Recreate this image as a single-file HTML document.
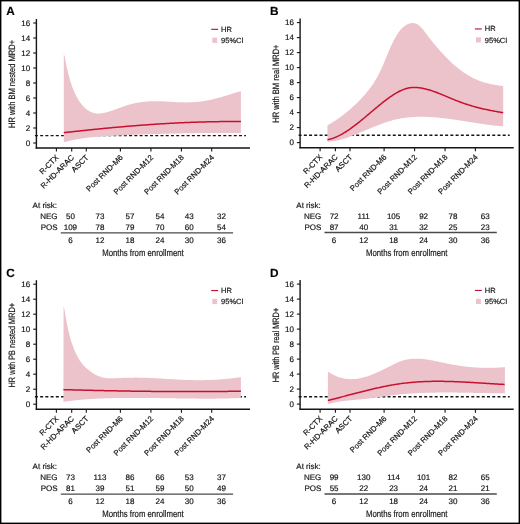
<!DOCTYPE html>
<html><head><meta charset="utf-8"><title>HR plots</title>
<style>html,body{margin:0;padding:0;background:#fff;} svg{display:block;} text{text-rendering:geometricPrecision;filter:grayscale(1);stroke:#111;stroke-width:0.18px;} text{font-family:"Liberation Sans", sans-serif;}</style>
</head><body>
<svg width="520" height="524" viewBox="0 0 520 524" font-family='"Liberation Sans", sans-serif' fill="#151515">
<rect x="0.7" y="0.7" width="518.6" height="522.6" fill="#fff" stroke="#000" stroke-width="1.4"/>
<g id="pA" class="t"><line x1="34.90" y1="135.60" x2="246.00" y2="135.60" stroke="#151515" stroke-width="1.4" stroke-dasharray="3 2.233"/>
<path d="M63.80,54.00 L64.80,57.07 L65.80,62.58 L66.80,67.52 L67.80,71.85 L68.80,75.73 L69.80,79.28 L70.80,82.54 L71.80,85.54 L72.80,88.28 L73.80,90.79 L74.80,93.08 L75.80,95.17 L76.80,97.09 L77.80,98.84 L78.80,100.45 L79.80,101.92 L80.80,103.29 L81.80,104.56 L82.80,105.73 L83.80,106.80 L84.80,107.78 L85.80,108.66 L86.80,109.46 L87.80,110.18 L88.80,110.82 L89.80,111.38 L90.80,111.86 L91.80,112.28 L92.80,112.63 L93.80,112.91 L94.80,113.14 L95.80,113.30 L96.80,113.41 L97.80,113.47 L98.80,113.49 L99.80,113.45 L100.80,113.38 L101.80,113.27 L102.80,113.12 L103.80,112.94 L104.80,112.73 L105.80,112.50 L106.80,112.25 L107.80,111.97 L108.80,111.68 L109.80,111.37 L110.80,111.04 L111.80,110.70 L112.80,110.35 L113.80,109.99 L114.80,109.63 L115.80,109.26 L116.80,108.88 L117.80,108.51 L118.80,108.13 L119.80,107.75 L120.80,107.38 L121.80,107.02 L122.80,106.66 L123.80,106.31 L124.80,105.98 L125.80,105.65 L126.80,105.34 L127.80,105.04 L128.80,104.75 L129.80,104.47 L130.80,104.20 L131.80,103.95 L132.80,103.70 L133.80,103.47 L134.80,103.25 L135.80,103.04 L136.80,102.84 L137.80,102.66 L138.80,102.48 L139.80,102.32 L140.80,102.17 L141.80,102.03 L142.80,101.90 L143.80,101.78 L144.80,101.67 L145.80,101.58 L146.80,101.49 L147.80,101.42 L148.80,101.36 L149.80,101.30 L150.80,101.26 L151.80,101.23 L152.80,101.20 L153.80,101.19 L154.80,101.18 L155.80,101.18 L156.80,101.19 L157.80,101.21 L158.80,101.23 L159.80,101.26 L160.80,101.29 L161.80,101.33 L162.80,101.37 L163.80,101.41 L164.80,101.46 L165.80,101.51 L166.80,101.57 L167.80,101.62 L168.80,101.68 L169.80,101.74 L170.80,101.80 L171.80,101.85 L172.80,101.91 L173.80,101.97 L174.80,102.02 L175.80,102.08 L176.80,102.13 L177.80,102.17 L178.80,102.22 L179.80,102.26 L180.80,102.29 L181.80,102.32 L182.80,102.35 L183.80,102.36 L184.80,102.38 L185.80,102.38 L186.80,102.38 L187.80,102.37 L188.80,102.35 L189.80,102.32 L190.80,102.28 L191.80,102.24 L192.80,102.18 L193.80,102.12 L194.80,102.05 L195.80,101.97 L196.80,101.88 L197.80,101.78 L198.80,101.68 L199.80,101.56 L200.80,101.44 L201.80,101.31 L202.80,101.17 L203.80,101.02 L204.80,100.86 L205.80,100.70 L206.80,100.53 L207.80,100.34 L208.80,100.15 L209.80,99.96 L210.80,99.75 L211.80,99.53 L212.80,99.31 L213.80,99.08 L214.80,98.84 L215.80,98.59 L216.80,98.34 L217.80,98.08 L218.80,97.80 L219.80,97.53 L220.80,97.24 L221.80,96.95 L222.80,96.65 L223.80,96.35 L224.80,96.04 L225.80,95.73 L226.80,95.42 L227.80,95.11 L228.80,94.79 L229.80,94.47 L230.80,94.16 L231.80,93.84 L232.80,93.53 L233.80,93.21 L234.80,92.90 L235.80,92.60 L236.80,92.29 L237.80,91.99 L238.80,91.70 L239.80,91.41 L240.80,91.13 L240.90,91.10 L240.90,132.90 L240.80,132.90 L239.80,132.90 L238.80,132.90 L237.80,132.89 L236.80,132.89 L235.80,132.89 L234.80,132.89 L233.80,132.89 L232.80,132.89 L231.80,132.88 L230.80,132.88 L229.80,132.88 L228.80,132.89 L227.80,132.89 L226.80,132.89 L225.80,132.89 L224.80,132.89 L223.80,132.89 L222.80,132.90 L221.80,132.90 L220.80,132.90 L219.80,132.91 L218.80,132.91 L217.80,132.92 L216.80,132.92 L215.80,132.93 L214.80,132.93 L213.80,132.94 L212.80,132.95 L211.80,132.95 L210.80,132.96 L209.80,132.97 L208.80,132.98 L207.80,132.99 L206.80,132.99 L205.80,133.00 L204.80,133.01 L203.80,133.02 L202.80,133.04 L201.80,133.05 L200.80,133.06 L199.80,133.07 L198.80,133.08 L197.80,133.09 L196.80,133.11 L195.80,133.12 L194.80,133.14 L193.80,133.15 L192.80,133.16 L191.80,133.18 L190.80,133.20 L189.80,133.21 L188.80,133.23 L187.80,133.24 L186.80,133.26 L185.80,133.28 L184.80,133.30 L183.80,133.32 L182.80,133.34 L181.80,133.36 L180.80,133.38 L179.80,133.40 L178.80,133.42 L177.80,133.44 L176.80,133.46 L175.80,133.48 L174.80,133.50 L173.80,133.53 L172.80,133.55 L171.80,133.57 L170.80,133.60 L169.80,133.62 L168.80,133.65 L167.80,133.67 L166.80,133.70 L165.80,133.73 L164.80,133.75 L163.80,133.78 L162.80,133.81 L161.80,133.84 L160.80,133.87 L159.80,133.90 L158.80,133.93 L157.80,133.96 L156.80,133.99 L155.80,134.02 L154.80,134.05 L153.80,134.08 L152.80,134.11 L151.80,134.15 L150.80,134.18 L149.80,134.21 L148.80,134.25 L147.80,134.28 L146.80,134.32 L145.80,134.35 L144.80,134.39 L143.80,134.43 L142.80,134.46 L141.80,134.50 L140.80,134.54 L139.80,134.58 L138.80,134.62 L137.80,134.66 L136.80,134.70 L135.80,134.74 L134.80,134.78 L133.80,134.82 L132.80,134.86 L131.80,134.91 L130.80,134.95 L129.80,134.99 L128.80,135.04 L127.80,135.08 L126.80,135.13 L125.80,135.17 L124.80,135.22 L123.80,135.27 L122.80,135.31 L121.80,135.36 L120.80,135.41 L119.80,135.46 L118.80,135.51 L117.80,135.56 L116.80,135.61 L115.80,135.66 L114.80,135.71 L113.80,135.76 L112.80,135.81 L111.80,135.87 L110.80,135.92 L109.80,135.98 L108.80,136.03 L107.80,136.09 L106.80,136.15 L105.80,136.21 L104.80,136.27 L103.80,136.34 L102.80,136.40 L101.80,136.47 L100.80,136.54 L99.80,136.61 L98.80,136.69 L97.80,136.77 L96.80,136.85 L95.80,136.93 L94.80,137.02 L93.80,137.11 L92.80,137.20 L91.80,137.30 L90.80,137.40 L89.80,137.50 L88.80,137.61 L87.80,137.72 L86.80,137.84 L85.80,137.96 L84.80,138.09 L83.80,138.22 L82.80,138.36 L81.80,138.50 L80.80,138.65 L79.80,138.80 L78.80,138.97 L77.80,139.13 L76.80,139.31 L75.80,139.49 L74.80,139.68 L73.80,139.87 L72.80,140.08 L71.80,140.29 L70.80,140.51 L69.80,140.73 L68.80,140.97 L67.80,141.21 L66.80,141.46 L65.80,141.73 L64.80,142.00 L63.80,142.28 Z" fill="#edc3cb"/>
<path d="M63.80,132.68 L64.80,132.57 L65.80,132.45 L66.80,132.34 L67.80,132.23 L68.80,132.12 L69.80,132.01 L70.80,131.90 L71.80,131.79 L72.80,131.68 L73.80,131.57 L74.80,131.46 L75.80,131.35 L76.80,131.24 L77.80,131.13 L78.80,131.02 L79.80,130.91 L80.80,130.81 L81.80,130.70 L82.80,130.59 L83.80,130.49 L84.80,130.38 L85.80,130.28 L86.80,130.17 L87.80,130.07 L88.80,129.96 L89.80,129.86 L90.80,129.76 L91.80,129.66 L92.80,129.55 L93.80,129.45 L94.80,129.35 L95.80,129.25 L96.80,129.15 L97.80,129.05 L98.80,128.95 L99.80,128.85 L100.80,128.75 L101.80,128.66 L102.80,128.56 L103.80,128.46 L104.80,128.36 L105.80,128.27 L106.80,128.17 L107.80,128.08 L108.80,127.98 L109.80,127.89 L110.80,127.80 L111.80,127.70 L112.80,127.61 L113.80,127.52 L114.80,127.43 L115.80,127.34 L116.80,127.25 L117.80,127.16 L118.80,127.07 L119.80,126.98 L120.80,126.89 L121.80,126.80 L122.80,126.71 L123.80,126.63 L124.80,126.54 L125.80,126.46 L126.80,126.37 L127.80,126.29 L128.80,126.21 L129.80,126.12 L130.80,126.04 L131.80,125.96 L132.80,125.88 L133.80,125.80 L134.80,125.72 L135.80,125.64 L136.80,125.56 L137.80,125.48 L138.80,125.40 L139.80,125.33 L140.80,125.25 L141.80,125.17 L142.80,125.10 L143.80,125.03 L144.80,124.95 L145.80,124.88 L146.80,124.81 L147.80,124.74 L148.80,124.67 L149.80,124.59 L150.80,124.53 L151.80,124.46 L152.80,124.39 L153.80,124.32 L154.80,124.25 L155.80,124.19 L156.80,124.12 L157.80,124.06 L158.80,123.99 L159.80,123.93 L160.80,123.87 L161.80,123.81 L162.80,123.75 L163.80,123.69 L164.80,123.63 L165.80,123.57 L166.80,123.51 L167.80,123.45 L168.80,123.40 L169.80,123.34 L170.80,123.29 L171.80,123.23 L172.80,123.18 L173.80,123.13 L174.80,123.07 L175.80,123.02 L176.80,122.97 L177.80,122.92 L178.80,122.87 L179.80,122.83 L180.80,122.78 L181.80,122.73 L182.80,122.69 L183.80,122.64 L184.80,122.60 L185.80,122.56 L186.80,122.51 L187.80,122.47 L188.80,122.43 L189.80,122.39 L190.80,122.35 L191.80,122.32 L192.80,122.28 L193.80,122.24 L194.80,122.21 L195.80,122.17 L196.80,122.14 L197.80,122.11 L198.80,122.08 L199.80,122.05 L200.80,122.02 L201.80,121.99 L202.80,121.96 L203.80,121.93 L204.80,121.90 L205.80,121.88 L206.80,121.85 L207.80,121.83 L208.80,121.81 L209.80,121.79 L210.80,121.77 L211.80,121.75 L212.80,121.73 L213.80,121.71 L214.80,121.69 L215.80,121.68 L216.80,121.66 L217.80,121.65 L218.80,121.63 L219.80,121.62 L220.80,121.61 L221.80,121.60 L222.80,121.59 L223.80,121.58 L224.80,121.58 L225.80,121.57 L226.80,121.56 L227.80,121.56 L228.80,121.56 L229.80,121.55 L230.80,121.55 L231.80,121.55 L232.80,121.55 L233.80,121.56 L234.80,121.56 L235.80,121.56 L236.80,121.57 L237.80,121.57 L238.80,121.58 L239.80,121.59 L240.80,121.60 L240.90,121.60" fill="none" stroke="#c8102e" stroke-width="1.5" stroke-linejoin="round"/>
<line x1="36.40" y1="19.00" x2="36.40" y2="148.70" stroke="#151515" stroke-width="1.4"/>
<line x1="35.70" y1="148.05" x2="250.00" y2="148.05" stroke="#151515" stroke-width="1.45"/>
<line x1="33.20" y1="143.00" x2="36.50" y2="143.00" stroke="#151515" stroke-width="1.1"/>
<text x="30.20" y="145.50" font-size="8" text-anchor="end">0</text>
<line x1="33.20" y1="128.00" x2="36.50" y2="128.00" stroke="#151515" stroke-width="1.1"/>
<text x="30.20" y="130.50" font-size="8" text-anchor="end">2</text>
<line x1="33.20" y1="113.00" x2="36.50" y2="113.00" stroke="#151515" stroke-width="1.1"/>
<text x="30.20" y="115.50" font-size="8" text-anchor="end">4</text>
<line x1="33.20" y1="98.00" x2="36.50" y2="98.00" stroke="#151515" stroke-width="1.1"/>
<text x="30.20" y="100.50" font-size="8" text-anchor="end">6</text>
<line x1="33.20" y1="83.00" x2="36.50" y2="83.00" stroke="#151515" stroke-width="1.1"/>
<text x="30.20" y="85.50" font-size="8" text-anchor="end">8</text>
<line x1="33.20" y1="68.00" x2="36.50" y2="68.00" stroke="#151515" stroke-width="1.1"/>
<text x="30.20" y="70.50" font-size="8" text-anchor="end">10</text>
<line x1="33.20" y1="53.00" x2="36.50" y2="53.00" stroke="#151515" stroke-width="1.1"/>
<text x="30.20" y="55.50" font-size="8" text-anchor="end">12</text>
<line x1="33.20" y1="38.00" x2="36.50" y2="38.00" stroke="#151515" stroke-width="1.1"/>
<text x="30.20" y="40.50" font-size="8" text-anchor="end">14</text>
<line x1="33.20" y1="23.00" x2="36.50" y2="23.00" stroke="#151515" stroke-width="1.1"/>
<text x="30.20" y="25.50" font-size="8" text-anchor="end">16</text>
<line x1="56.40" y1="148.00" x2="56.40" y2="151.60" stroke="#151515" stroke-width="1.1"/>
<text x="59.30" y="158.00" font-size="7.8" text-anchor="end" transform="rotate(-45 59.30 158.00)">R-CTX</text>
<line x1="71.70" y1="148.00" x2="71.70" y2="151.60" stroke="#151515" stroke-width="1.1"/>
<text x="74.60" y="158.00" font-size="7.8" text-anchor="end" transform="rotate(-45 74.60 158.00)">R-HD-ARAC</text>
<line x1="86.30" y1="148.00" x2="86.30" y2="151.60" stroke="#151515" stroke-width="1.1"/>
<text x="89.20" y="158.00" font-size="7.8" text-anchor="end" transform="rotate(-45 89.20 158.00)">ASCT</text>
<line x1="120.40" y1="148.00" x2="120.40" y2="151.60" stroke="#151515" stroke-width="1.1"/>
<text x="123.30" y="158.00" font-size="7.8" text-anchor="end" transform="rotate(-45 123.30 158.00)">Post RND-M6</text>
<line x1="150.90" y1="148.00" x2="150.90" y2="151.60" stroke="#151515" stroke-width="1.1"/>
<text x="153.80" y="158.00" font-size="7.8" text-anchor="end" transform="rotate(-45 153.80 158.00)">Post RND-M12</text>
<line x1="181.40" y1="148.00" x2="181.40" y2="151.60" stroke="#151515" stroke-width="1.1"/>
<text x="184.30" y="158.00" font-size="7.8" text-anchor="end" transform="rotate(-45 184.30 158.00)">Post RND-M18</text>
<line x1="211.70" y1="148.00" x2="211.70" y2="151.60" stroke="#151515" stroke-width="1.1"/>
<text x="214.60" y="158.00" font-size="7.8" text-anchor="end" transform="rotate(-45 214.60 158.00)">Post RND-M24</text>
<text x="6.20" y="14.70" font-size="11.8" font-weight="bold" fill="#000">A</text>
<text x="15.10" y="84.00" font-size="9.2" text-anchor="middle" transform="rotate(-90 15.10 84.00)" textLength="88.1" lengthAdjust="spacingAndGlyphs">HR with BM nested MRD+</text>
<line x1="211.20" y1="29.35" x2="218.10" y2="29.35" stroke="#c8102e" stroke-width="1.15"/>
<text x="221.10" y="31.80" font-size="7.5">HR</text>
<rect x="212.30" y="37.70" width="4.9" height="5.2" fill="#edc3cb"/>
<text x="221.10" y="42.90" font-size="7.5">95%CI</text>
<text x="32.60" y="208.30" font-size="8">At risk:</text>
<text x="57.60" y="219.30" font-size="8" text-anchor="end">NEG</text>
<text x="57.60" y="230.40" font-size="8" text-anchor="end">POS</text>
<text x="70.40" y="219.30" font-size="8" text-anchor="middle">50</text>
<text x="70.40" y="230.40" font-size="8" text-anchor="middle">109</text>
<text x="70.40" y="243.00" font-size="8" text-anchor="middle">6</text>
<text x="100.00" y="219.30" font-size="8" text-anchor="middle">73</text>
<text x="100.00" y="230.40" font-size="8" text-anchor="middle">78</text>
<text x="100.00" y="243.00" font-size="8" text-anchor="middle">12</text>
<text x="129.90" y="219.30" font-size="8" text-anchor="middle">57</text>
<text x="129.90" y="230.40" font-size="8" text-anchor="middle">79</text>
<text x="129.90" y="243.00" font-size="8" text-anchor="middle">18</text>
<text x="159.90" y="219.30" font-size="8" text-anchor="middle">54</text>
<text x="159.90" y="230.40" font-size="8" text-anchor="middle">70</text>
<text x="159.90" y="243.00" font-size="8" text-anchor="middle">24</text>
<text x="189.30" y="219.30" font-size="8" text-anchor="middle">43</text>
<text x="189.30" y="230.40" font-size="8" text-anchor="middle">60</text>
<text x="189.30" y="243.00" font-size="8" text-anchor="middle">30</text>
<text x="221.50" y="219.30" font-size="8" text-anchor="middle">32</text>
<text x="221.50" y="230.40" font-size="8" text-anchor="middle">54</text>
<text x="221.50" y="243.00" font-size="8" text-anchor="middle">36</text>
<line x1="60.80" y1="232.90" x2="233.10" y2="232.90" stroke="#4a4a4a" stroke-width="1.4"/>
<text x="143.00" y="255.80" font-size="9.5" text-anchor="middle" textLength="81.5" lengthAdjust="spacingAndGlyphs">Months from enrollment</text></g>
<g id="pB" class="t"><line x1="298.60" y1="135.20" x2="509.70" y2="135.20" stroke="#151515" stroke-width="1.4" stroke-dasharray="3 2.233"/>
<path d="M327.40,125.40 L328.40,124.82 L329.40,124.24 L330.40,123.64 L331.40,123.03 L332.40,122.41 L333.40,121.77 L334.40,121.13 L335.40,120.47 L336.40,119.80 L337.40,119.12 L338.40,118.42 L339.40,117.71 L340.40,116.99 L341.40,116.26 L342.40,115.51 L343.40,114.74 L344.40,113.97 L345.40,113.17 L346.40,112.37 L347.40,111.55 L348.40,110.71 L349.40,109.86 L350.40,108.99 L351.40,108.11 L352.40,107.21 L353.40,106.30 L354.40,105.37 L355.40,104.42 L356.40,103.45 L357.40,102.47 L358.40,101.47 L359.40,100.45 L360.40,99.42 L361.40,98.36 L362.40,97.29 L363.40,96.20 L364.40,95.08 L365.40,93.95 L366.40,92.78 L367.40,91.58 L368.40,90.34 L369.40,89.06 L370.40,87.73 L371.40,86.35 L372.40,84.91 L373.40,83.41 L374.40,81.85 L375.40,80.21 L376.40,78.50 L377.40,76.72 L378.40,74.85 L379.40,72.90 L380.40,70.86 L381.40,68.72 L382.40,66.49 L383.40,64.19 L384.40,61.82 L385.40,59.42 L386.40,57.00 L387.40,54.58 L388.40,52.19 L389.40,49.83 L390.40,47.54 L391.40,45.33 L392.40,43.21 L393.40,41.18 L394.40,39.26 L395.40,37.43 L396.40,35.72 L397.40,34.11 L398.40,32.62 L399.40,31.25 L400.40,30.00 L401.40,28.87 L402.40,27.85 L403.40,26.95 L404.40,26.16 L405.40,25.46 L406.40,24.86 L407.40,24.36 L408.40,23.94 L409.40,23.60 L410.40,23.34 L411.40,23.16 L412.40,23.08 L413.40,23.11 L414.40,23.24 L415.40,23.49 L416.40,23.86 L417.40,24.37 L418.40,25.02 L419.40,25.81 L420.40,26.72 L421.40,27.74 L422.40,28.86 L423.40,30.07 L424.40,31.35 L425.40,32.67 L426.40,34.02 L427.40,35.36 L428.40,36.68 L429.40,37.98 L430.40,39.26 L431.40,40.53 L432.40,41.77 L433.40,43.00 L434.40,44.21 L435.40,45.40 L436.40,46.58 L437.40,47.75 L438.40,48.89 L439.40,50.03 L440.40,51.15 L441.40,52.26 L442.40,53.35 L443.40,54.43 L444.40,55.49 L445.40,56.54 L446.40,57.57 L447.40,58.59 L448.40,59.58 L449.40,60.56 L450.40,61.52 L451.40,62.46 L452.40,63.38 L453.40,64.28 L454.40,65.16 L455.40,66.03 L456.40,66.87 L457.40,67.69 L458.40,68.49 L459.40,69.27 L460.40,70.04 L461.40,70.78 L462.40,71.50 L463.40,72.20 L464.40,72.89 L465.40,73.55 L466.40,74.20 L467.40,74.82 L468.40,75.42 L469.40,76.01 L470.40,76.57 L471.40,77.12 L472.40,77.64 L473.40,78.15 L474.40,78.63 L475.40,79.10 L476.40,79.55 L477.40,79.97 L478.40,80.38 L479.40,80.77 L480.40,81.15 L481.40,81.50 L482.40,81.84 L483.40,82.16 L484.40,82.47 L485.40,82.76 L486.40,83.04 L487.40,83.30 L488.40,83.55 L489.40,83.79 L490.40,84.01 L491.40,84.22 L492.40,84.42 L493.40,84.61 L494.40,84.79 L495.40,84.96 L496.40,85.12 L497.40,85.27 L498.40,85.41 L499.40,85.55 L500.40,85.68 L501.40,85.80 L502.40,85.91 L503.20,86.00 L503.20,126.40 L502.40,126.33 L501.40,126.25 L500.40,126.16 L499.40,126.07 L498.40,125.97 L497.40,125.87 L496.40,125.76 L495.40,125.65 L494.40,125.54 L493.40,125.42 L492.40,125.30 L491.40,125.18 L490.40,125.06 L489.40,124.93 L488.40,124.80 L487.40,124.66 L486.40,124.53 L485.40,124.39 L484.40,124.25 L483.40,124.11 L482.40,123.96 L481.40,123.81 L480.40,123.67 L479.40,123.52 L478.40,123.37 L477.40,123.21 L476.40,123.06 L475.40,122.90 L474.40,122.75 L473.40,122.59 L472.40,122.44 L471.40,122.28 L470.40,122.12 L469.40,121.96 L468.40,121.81 L467.40,121.65 L466.40,121.49 L465.40,121.33 L464.40,121.18 L463.40,121.02 L462.40,120.87 L461.40,120.71 L460.40,120.56 L459.40,120.41 L458.40,120.25 L457.40,120.11 L456.40,119.96 L455.40,119.81 L454.40,119.67 L453.40,119.52 L452.40,119.38 L451.40,119.24 L450.40,119.11 L449.40,118.97 L448.40,118.84 L447.40,118.72 L446.40,118.59 L445.40,118.47 L444.40,118.35 L443.40,118.23 L442.40,118.12 L441.40,118.01 L440.40,117.91 L439.40,117.81 L438.40,117.71 L437.40,117.61 L436.40,117.53 L435.40,117.44 L434.40,117.36 L433.40,117.29 L432.40,117.21 L431.40,117.15 L430.40,117.09 L429.40,117.03 L428.40,116.98 L427.40,116.94 L426.40,116.90 L425.40,116.87 L424.40,116.84 L423.40,116.82 L422.40,116.80 L421.40,116.80 L420.40,116.80 L419.40,116.80 L418.40,116.82 L417.40,116.84 L416.40,116.87 L415.40,116.91 L414.40,116.95 L413.40,117.01 L412.40,117.07 L411.40,117.14 L410.40,117.22 L409.40,117.30 L408.40,117.40 L407.40,117.51 L406.40,117.63 L405.40,117.75 L404.40,117.89 L403.40,118.03 L402.40,118.19 L401.40,118.36 L400.40,118.53 L399.40,118.72 L398.40,118.92 L397.40,119.13 L396.40,119.35 L395.40,119.58 L394.40,119.83 L393.40,120.09 L392.40,120.35 L391.40,120.63 L390.40,120.92 L389.40,121.21 L388.40,121.52 L387.40,121.84 L386.40,122.16 L385.40,122.49 L384.40,122.83 L383.40,123.18 L382.40,123.54 L381.40,123.90 L380.40,124.27 L379.40,124.64 L378.40,125.02 L377.40,125.41 L376.40,125.80 L375.40,126.19 L374.40,126.59 L373.40,127.00 L372.40,127.41 L371.40,127.82 L370.40,128.23 L369.40,128.65 L368.40,129.06 L367.40,129.49 L366.40,129.91 L365.40,130.33 L364.40,130.75 L363.40,131.18 L362.40,131.60 L361.40,132.03 L360.40,132.45 L359.40,132.87 L358.40,133.29 L357.40,133.70 L356.40,134.12 L355.40,134.52 L354.40,134.93 L353.40,135.32 L352.40,135.72 L351.40,136.10 L350.40,136.48 L349.40,136.85 L348.40,137.21 L347.40,137.56 L346.40,137.90 L345.40,138.23 L344.40,138.55 L343.40,138.85 L342.40,139.15 L341.40,139.43 L340.40,139.69 L339.40,139.94 L338.40,140.18 L337.40,140.40 L336.40,140.60 L335.40,140.79 L334.40,140.96 L333.40,141.11 L332.40,141.24 L331.40,141.35 L330.40,141.45 L329.40,141.52 L328.40,141.56 L327.40,141.59 Z" fill="#edc3cb"/>
<path d="M327.50,139.69 L328.50,139.49 L329.50,139.25 L330.50,138.99 L331.50,138.69 L332.50,138.37 L333.50,138.02 L334.50,137.65 L335.50,137.25 L336.50,136.82 L337.50,136.37 L338.50,135.90 L339.50,135.40 L340.50,134.89 L341.50,134.35 L342.50,133.79 L343.50,133.21 L344.50,132.61 L345.50,131.99 L346.50,131.36 L347.50,130.70 L348.50,130.04 L349.50,129.35 L350.50,128.65 L351.50,127.94 L352.50,127.21 L353.50,126.47 L354.50,125.72 L355.50,124.96 L356.50,124.19 L357.50,123.40 L358.50,122.61 L359.50,121.81 L360.50,121.00 L361.50,120.19 L362.50,119.36 L363.50,118.54 L364.50,117.71 L365.50,116.87 L366.50,116.03 L367.50,115.19 L368.50,114.34 L369.50,113.50 L370.50,112.65 L371.50,111.80 L372.50,110.96 L373.50,110.11 L374.50,109.27 L375.50,108.43 L376.50,107.60 L377.50,106.77 L378.50,105.94 L379.50,105.12 L380.50,104.31 L381.50,103.51 L382.50,102.71 L383.50,101.92 L384.50,101.14 L385.50,100.37 L386.50,99.61 L387.50,98.87 L388.50,98.13 L389.50,97.41 L390.50,96.71 L391.50,96.02 L392.50,95.35 L393.50,94.70 L394.50,94.07 L395.50,93.47 L396.50,92.88 L397.50,92.32 L398.50,91.78 L399.50,91.27 L400.50,90.78 L401.50,90.33 L402.50,89.90 L403.50,89.50 L404.50,89.14 L405.50,88.81 L406.50,88.51 L407.50,88.25 L408.50,88.02 L409.50,87.84 L410.50,87.68 L411.50,87.57 L412.50,87.49 L413.50,87.44 L414.50,87.43 L415.50,87.44 L416.50,87.48 L417.50,87.55 L418.50,87.65 L419.50,87.77 L420.50,87.91 L421.50,88.08 L422.50,88.26 L423.50,88.47 L424.50,88.69 L425.50,88.93 L426.50,89.18 L427.50,89.45 L428.50,89.73 L429.50,90.03 L430.50,90.34 L431.50,90.66 L432.50,91.00 L433.50,91.34 L434.50,91.70 L435.50,92.06 L436.50,92.43 L437.50,92.81 L438.50,93.20 L439.50,93.60 L440.50,94.00 L441.50,94.40 L442.50,94.82 L443.50,95.23 L444.50,95.65 L445.50,96.07 L446.50,96.49 L447.50,96.91 L448.50,97.33 L449.50,97.76 L450.50,98.18 L451.50,98.60 L452.50,99.01 L453.50,99.43 L454.50,99.84 L455.50,100.24 L456.50,100.64 L457.50,101.04 L458.50,101.42 L459.50,101.80 L460.50,102.18 L461.50,102.54 L462.50,102.90 L463.50,103.25 L464.50,103.59 L465.50,103.93 L466.50,104.26 L467.50,104.58 L468.50,104.90 L469.50,105.21 L470.50,105.51 L471.50,105.81 L472.50,106.10 L473.50,106.38 L474.50,106.66 L475.50,106.93 L476.50,107.20 L477.50,107.46 L478.50,107.72 L479.50,107.97 L480.50,108.22 L481.50,108.46 L482.50,108.70 L483.50,108.93 L484.50,109.16 L485.50,109.38 L486.50,109.60 L487.50,109.81 L488.50,110.02 L489.50,110.23 L490.50,110.43 L491.50,110.63 L492.50,110.82 L493.50,111.01 L494.50,111.20 L495.50,111.38 L496.50,111.57 L497.50,111.74 L498.50,111.92 L499.50,112.09 L500.50,112.26 L501.50,112.43 L502.50,112.59 L503.20,112.71" fill="none" stroke="#c8102e" stroke-width="1.5" stroke-linejoin="round"/>
<line x1="300.10" y1="18.60" x2="300.10" y2="148.30" stroke="#151515" stroke-width="1.4"/>
<line x1="299.40" y1="147.65" x2="513.70" y2="147.65" stroke="#151515" stroke-width="1.45"/>
<line x1="296.90" y1="142.60" x2="300.20" y2="142.60" stroke="#151515" stroke-width="1.1"/>
<text x="293.90" y="145.10" font-size="8" text-anchor="end">0</text>
<line x1="296.90" y1="127.60" x2="300.20" y2="127.60" stroke="#151515" stroke-width="1.1"/>
<text x="293.90" y="130.10" font-size="8" text-anchor="end">2</text>
<line x1="296.90" y1="112.60" x2="300.20" y2="112.60" stroke="#151515" stroke-width="1.1"/>
<text x="293.90" y="115.10" font-size="8" text-anchor="end">4</text>
<line x1="296.90" y1="97.60" x2="300.20" y2="97.60" stroke="#151515" stroke-width="1.1"/>
<text x="293.90" y="100.10" font-size="8" text-anchor="end">6</text>
<line x1="296.90" y1="82.60" x2="300.20" y2="82.60" stroke="#151515" stroke-width="1.1"/>
<text x="293.90" y="85.10" font-size="8" text-anchor="end">8</text>
<line x1="296.90" y1="67.60" x2="300.20" y2="67.60" stroke="#151515" stroke-width="1.1"/>
<text x="293.90" y="70.10" font-size="8" text-anchor="end">10</text>
<line x1="296.90" y1="52.60" x2="300.20" y2="52.60" stroke="#151515" stroke-width="1.1"/>
<text x="293.90" y="55.10" font-size="8" text-anchor="end">12</text>
<line x1="296.90" y1="37.60" x2="300.20" y2="37.60" stroke="#151515" stroke-width="1.1"/>
<text x="293.90" y="40.10" font-size="8" text-anchor="end">14</text>
<line x1="296.90" y1="22.60" x2="300.20" y2="22.60" stroke="#151515" stroke-width="1.1"/>
<text x="293.90" y="25.10" font-size="8" text-anchor="end">16</text>
<line x1="320.10" y1="147.60" x2="320.10" y2="151.20" stroke="#151515" stroke-width="1.1"/>
<text x="323.00" y="157.60" font-size="7.8" text-anchor="end" transform="rotate(-45 323.00 157.60)">R-CTX</text>
<line x1="335.40" y1="147.60" x2="335.40" y2="151.20" stroke="#151515" stroke-width="1.1"/>
<text x="338.30" y="157.60" font-size="7.8" text-anchor="end" transform="rotate(-45 338.30 157.60)">R-HD-ARAC</text>
<line x1="350.00" y1="147.60" x2="350.00" y2="151.20" stroke="#151515" stroke-width="1.1"/>
<text x="352.90" y="157.60" font-size="7.8" text-anchor="end" transform="rotate(-45 352.90 157.60)">ASCT</text>
<line x1="384.10" y1="147.60" x2="384.10" y2="151.20" stroke="#151515" stroke-width="1.1"/>
<text x="387.00" y="157.60" font-size="7.8" text-anchor="end" transform="rotate(-45 387.00 157.60)">Post RND-M6</text>
<line x1="414.60" y1="147.60" x2="414.60" y2="151.20" stroke="#151515" stroke-width="1.1"/>
<text x="417.50" y="157.60" font-size="7.8" text-anchor="end" transform="rotate(-45 417.50 157.60)">Post RND-M12</text>
<line x1="445.10" y1="147.60" x2="445.10" y2="151.20" stroke="#151515" stroke-width="1.1"/>
<text x="448.00" y="157.60" font-size="7.8" text-anchor="end" transform="rotate(-45 448.00 157.60)">Post RND-M18</text>
<line x1="475.40" y1="147.60" x2="475.40" y2="151.20" stroke="#151515" stroke-width="1.1"/>
<text x="478.30" y="157.60" font-size="7.8" text-anchor="end" transform="rotate(-45 478.30 157.60)">Post RND-M24</text>
<text x="269.90" y="15.00" font-size="11.8" font-weight="bold" fill="#000">B</text>
<text x="278.80" y="83.60" font-size="9.2" text-anchor="middle" transform="rotate(-90 278.80 83.60)" textLength="78.3" lengthAdjust="spacingAndGlyphs">HR with BM real MRD+</text>
<line x1="474.90" y1="28.95" x2="481.80" y2="28.95" stroke="#c8102e" stroke-width="1.15"/>
<text x="484.80" y="31.40" font-size="7.5">HR</text>
<rect x="476.00" y="37.30" width="4.9" height="5.2" fill="#edc3cb"/>
<text x="484.80" y="42.50" font-size="7.5">95%CI</text>
<text x="296.30" y="208.30" font-size="8">At risk:</text>
<text x="321.30" y="219.30" font-size="8" text-anchor="end">NEG</text>
<text x="321.30" y="230.40" font-size="8" text-anchor="end">POS</text>
<text x="334.10" y="219.30" font-size="8" text-anchor="middle">72</text>
<text x="334.10" y="230.40" font-size="8" text-anchor="middle">87</text>
<text x="334.10" y="243.00" font-size="8" text-anchor="middle">6</text>
<text x="363.70" y="219.30" font-size="8" text-anchor="middle">111</text>
<text x="363.70" y="230.40" font-size="8" text-anchor="middle">40</text>
<text x="363.70" y="243.00" font-size="8" text-anchor="middle">12</text>
<text x="393.60" y="219.30" font-size="8" text-anchor="middle">105</text>
<text x="393.60" y="230.40" font-size="8" text-anchor="middle">31</text>
<text x="393.60" y="243.00" font-size="8" text-anchor="middle">18</text>
<text x="423.60" y="219.30" font-size="8" text-anchor="middle">92</text>
<text x="423.60" y="230.40" font-size="8" text-anchor="middle">32</text>
<text x="423.60" y="243.00" font-size="8" text-anchor="middle">24</text>
<text x="453.00" y="219.30" font-size="8" text-anchor="middle">78</text>
<text x="453.00" y="230.40" font-size="8" text-anchor="middle">25</text>
<text x="453.00" y="243.00" font-size="8" text-anchor="middle">30</text>
<text x="485.20" y="219.30" font-size="8" text-anchor="middle">63</text>
<text x="485.20" y="230.40" font-size="8" text-anchor="middle">23</text>
<text x="485.20" y="243.00" font-size="8" text-anchor="middle">36</text>
<line x1="324.50" y1="232.50" x2="496.80" y2="232.50" stroke="#4a4a4a" stroke-width="1.4"/>
<text x="406.70" y="255.80" font-size="9.5" text-anchor="middle" textLength="81.5" lengthAdjust="spacingAndGlyphs">Months from enrollment</text></g>
<g id="pC" class="t"><line x1="34.90" y1="396.80" x2="246.00" y2="396.80" stroke="#151515" stroke-width="1.4" stroke-dasharray="3 2.233"/>
<path d="M63.60,305.99 L64.60,310.13 L65.60,316.20 L66.60,321.99 L67.60,327.06 L68.60,331.55 L69.60,335.57 L70.60,339.18 L71.60,342.43 L72.60,345.37 L73.60,348.07 L74.60,350.55 L75.60,352.84 L76.60,354.93 L77.60,356.85 L78.60,358.61 L79.60,360.22 L80.60,361.69 L81.60,363.04 L82.60,364.27 L83.60,365.41 L84.60,366.47 L85.60,367.45 L86.60,368.37 L87.60,369.25 L88.60,370.08 L89.60,370.87 L90.60,371.61 L91.60,372.32 L92.60,372.98 L93.60,373.61 L94.60,374.19 L95.60,374.73 L96.60,375.24 L97.60,375.70 L98.60,376.12 L99.60,376.51 L100.60,376.85 L101.60,377.16 L102.60,377.43 L103.60,377.66 L104.60,377.85 L105.60,378.01 L106.60,378.14 L107.60,378.23 L108.60,378.30 L109.60,378.34 L110.60,378.36 L111.60,378.36 L112.60,378.34 L113.60,378.31 L114.60,378.27 L115.60,378.22 L116.60,378.17 L117.60,378.12 L118.60,378.06 L119.60,378.01 L120.60,377.96 L121.60,377.92 L122.60,377.87 L123.60,377.84 L124.60,377.80 L125.60,377.77 L126.60,377.74 L127.60,377.71 L128.60,377.69 L129.60,377.67 L130.60,377.66 L131.60,377.64 L132.60,377.63 L133.60,377.63 L134.60,377.62 L135.60,377.62 L136.60,377.62 L137.60,377.63 L138.60,377.64 L139.60,377.65 L140.60,377.66 L141.60,377.68 L142.60,377.70 L143.60,377.73 L144.60,377.75 L145.60,377.78 L146.60,377.82 L147.60,377.85 L148.60,377.89 L149.60,377.93 L150.60,377.97 L151.60,378.02 L152.60,378.07 L153.60,378.12 L154.60,378.17 L155.60,378.22 L156.60,378.28 L157.60,378.33 L158.60,378.39 L159.60,378.45 L160.60,378.51 L161.60,378.57 L162.60,378.63 L163.60,378.69 L164.60,378.76 L165.60,378.82 L166.60,378.88 L167.60,378.94 L168.60,379.01 L169.60,379.07 L170.60,379.13 L171.60,379.19 L172.60,379.25 L173.60,379.31 L174.60,379.37 L175.60,379.43 L176.60,379.49 L177.60,379.54 L178.60,379.60 L179.60,379.65 L180.60,379.70 L181.60,379.75 L182.60,379.79 L183.60,379.84 L184.60,379.88 L185.60,379.92 L186.60,379.95 L187.60,379.99 L188.60,380.02 L189.60,380.04 L190.60,380.07 L191.60,380.09 L192.60,380.11 L193.60,380.13 L194.60,380.14 L195.60,380.15 L196.60,380.16 L197.60,380.16 L198.60,380.16 L199.60,380.16 L200.60,380.16 L201.60,380.15 L202.60,380.14 L203.60,380.12 L204.60,380.10 L205.60,380.08 L206.60,380.06 L207.60,380.03 L208.60,380.00 L209.60,379.97 L210.60,379.93 L211.60,379.89 L212.60,379.85 L213.60,379.80 L214.60,379.75 L215.60,379.69 L216.60,379.63 L217.60,379.57 L218.60,379.51 L219.60,379.44 L220.60,379.37 L221.60,379.29 L222.60,379.21 L223.60,379.13 L224.60,379.04 L225.60,378.95 L226.60,378.86 L227.60,378.76 L228.60,378.66 L229.60,378.56 L230.60,378.45 L231.60,378.33 L232.60,378.22 L233.60,378.10 L234.60,377.97 L235.60,377.85 L236.60,377.71 L237.60,377.58 L238.60,377.44 L239.60,377.29 L240.60,377.14 L240.90,377.10 L240.90,398.00 L240.40,398.02 L239.40,398.06 L238.40,398.10 L237.40,398.14 L236.40,398.18 L235.40,398.21 L234.40,398.25 L233.40,398.28 L232.40,398.31 L231.40,398.34 L230.40,398.37 L229.40,398.40 L228.40,398.42 L227.40,398.44 L226.40,398.47 L225.40,398.49 L224.40,398.51 L223.40,398.53 L222.40,398.54 L221.40,398.56 L220.40,398.57 L219.40,398.59 L218.40,398.60 L217.40,398.61 L216.40,398.62 L215.40,398.63 L214.40,398.64 L213.40,398.64 L212.40,398.65 L211.40,398.65 L210.40,398.66 L209.40,398.66 L208.40,398.66 L207.40,398.66 L206.40,398.66 L205.40,398.66 L204.40,398.66 L203.40,398.66 L202.40,398.65 L201.40,398.65 L200.40,398.64 L199.40,398.64 L198.40,398.63 L197.40,398.63 L196.40,398.62 L195.40,398.61 L194.40,398.60 L193.40,398.59 L192.40,398.58 L191.40,398.57 L190.40,398.56 L189.40,398.55 L188.40,398.54 L187.40,398.52 L186.40,398.51 L185.40,398.50 L184.40,398.48 L183.40,398.47 L182.40,398.46 L181.40,398.44 L180.40,398.43 L179.40,398.41 L178.40,398.40 L177.40,398.38 L176.40,398.37 L175.40,398.35 L174.40,398.34 L173.40,398.32 L172.40,398.30 L171.40,398.29 L170.40,398.27 L169.40,398.26 L168.40,398.24 L167.40,398.22 L166.40,398.21 L165.40,398.19 L164.40,398.18 L163.40,398.16 L162.40,398.15 L161.40,398.13 L160.40,398.12 L159.40,398.10 L158.40,398.09 L157.40,398.07 L156.40,398.06 L155.40,398.05 L154.40,398.03 L153.40,398.02 L152.40,398.01 L151.40,398.00 L150.40,397.99 L149.40,397.98 L148.40,397.97 L147.40,397.96 L146.40,397.95 L145.40,397.94 L144.40,397.93 L143.40,397.92 L142.40,397.92 L141.40,397.91 L140.40,397.91 L139.40,397.90 L138.40,397.90 L137.40,397.89 L136.40,397.89 L135.40,397.89 L134.40,397.89 L133.40,397.89 L132.40,397.89 L131.40,397.90 L130.40,397.90 L129.40,397.90 L128.40,397.91 L127.40,397.91 L126.40,397.92 L125.40,397.93 L124.40,397.94 L123.40,397.95 L122.40,397.96 L121.40,397.98 L120.40,397.99 L119.40,398.01 L118.40,398.02 L117.40,398.04 L116.40,398.06 L115.40,398.08 L114.40,398.10 L113.40,398.12 L112.40,398.15 L111.40,398.18 L110.40,398.20 L109.40,398.23 L108.40,398.26 L107.40,398.29 L106.40,398.33 L105.40,398.36 L104.40,398.40 L103.40,398.44 L102.40,398.48 L101.40,398.52 L100.40,398.56 L99.40,398.61 L98.40,398.66 L97.40,398.70 L96.40,398.75 L95.40,398.81 L94.40,398.86 L93.40,398.92 L92.40,398.97 L91.40,399.03 L90.40,399.09 L89.40,399.16 L88.40,399.22 L87.40,399.29 L86.40,399.36 L85.40,399.44 L84.40,399.51 L83.40,399.59 L82.40,399.67 L81.40,399.76 L80.40,399.84 L79.40,399.93 L78.40,400.03 L77.40,400.12 L76.40,400.22 L75.40,400.33 L74.40,400.43 L73.40,400.54 L72.40,400.66 L71.40,400.78 L70.40,400.90 L69.40,401.02 L68.40,401.15 L67.40,401.29 L66.40,401.43 L65.40,401.57 L64.40,401.72 L63.40,401.87 Z" fill="#edc3cb"/>
<path d="M63.40,389.60 L64.40,389.63 L65.40,389.66 L66.40,389.69 L67.40,389.72 L68.40,389.74 L69.40,389.77 L70.40,389.80 L71.40,389.83 L72.40,389.85 L73.40,389.88 L74.40,389.91 L75.40,389.94 L76.40,389.96 L77.40,389.99 L78.40,390.01 L79.40,390.04 L80.40,390.07 L81.40,390.09 L82.40,390.12 L83.40,390.14 L84.40,390.17 L85.40,390.19 L86.40,390.22 L87.40,390.24 L88.40,390.27 L89.40,390.29 L90.40,390.32 L91.40,390.34 L92.40,390.36 L93.40,390.39 L94.40,390.41 L95.40,390.43 L96.40,390.46 L97.40,390.48 L98.40,390.50 L99.40,390.52 L100.40,390.55 L101.40,390.57 L102.40,390.59 L103.40,390.61 L104.40,390.63 L105.40,390.65 L106.40,390.67 L107.40,390.69 L108.40,390.72 L109.40,390.74 L110.40,390.76 L111.40,390.78 L112.40,390.79 L113.40,390.81 L114.40,390.83 L115.40,390.85 L116.40,390.87 L117.40,390.89 L118.40,390.91 L119.40,390.93 L120.40,390.94 L121.40,390.96 L122.40,390.98 L123.40,391.00 L124.40,391.01 L125.40,391.03 L126.40,391.05 L127.40,391.06 L128.40,391.08 L129.40,391.09 L130.40,391.11 L131.40,391.13 L132.40,391.14 L133.40,391.16 L134.40,391.17 L135.40,391.18 L136.40,391.20 L137.40,391.21 L138.40,391.23 L139.40,391.24 L140.40,391.25 L141.40,391.27 L142.40,391.28 L143.40,391.29 L144.40,391.30 L145.40,391.32 L146.40,391.33 L147.40,391.34 L148.40,391.35 L149.40,391.36 L150.40,391.37 L151.40,391.38 L152.40,391.39 L153.40,391.40 L154.40,391.41 L155.40,391.42 L156.40,391.43 L157.40,391.44 L158.40,391.45 L159.40,391.46 L160.40,391.47 L161.40,391.47 L162.40,391.48 L163.40,391.49 L164.40,391.50 L165.40,391.50 L166.40,391.51 L167.40,391.52 L168.40,391.52 L169.40,391.53 L170.40,391.53 L171.40,391.54 L172.40,391.54 L173.40,391.55 L174.40,391.55 L175.40,391.56 L176.40,391.56 L177.40,391.57 L178.40,391.57 L179.40,391.57 L180.40,391.58 L181.40,391.58 L182.40,391.58 L183.40,391.58 L184.40,391.58 L185.40,391.59 L186.40,391.59 L187.40,391.59 L188.40,391.59 L189.40,391.59 L190.40,391.59 L191.40,391.59 L192.40,391.59 L193.40,391.59 L194.40,391.59 L195.40,391.59 L196.40,391.58 L197.40,391.58 L198.40,391.58 L199.40,391.58 L200.40,391.57 L201.40,391.57 L202.40,391.57 L203.40,391.56 L204.40,391.56 L205.40,391.56 L206.40,391.55 L207.40,391.55 L208.40,391.54 L209.40,391.54 L210.40,391.53 L211.40,391.52 L212.40,391.52 L213.40,391.51 L214.40,391.50 L215.40,391.50 L216.40,391.49 L217.40,391.48 L218.40,391.47 L219.40,391.46 L220.40,391.46 L221.40,391.45 L222.40,391.44 L223.40,391.43 L224.40,391.42 L225.40,391.41 L226.40,391.40 L227.40,391.38 L228.40,391.37 L229.40,391.36 L230.40,391.35 L231.40,391.34 L232.40,391.32 L233.40,391.31 L234.40,391.30 L235.40,391.28 L236.40,391.27 L237.40,391.26 L238.40,391.24 L239.40,391.23 L240.40,391.21 L240.90,391.20" fill="none" stroke="#c8102e" stroke-width="1.5" stroke-linejoin="round"/>
<line x1="36.40" y1="280.20" x2="36.40" y2="409.90" stroke="#151515" stroke-width="1.4"/>
<line x1="35.70" y1="409.25" x2="250.00" y2="409.25" stroke="#151515" stroke-width="1.45"/>
<line x1="33.20" y1="404.20" x2="36.50" y2="404.20" stroke="#151515" stroke-width="1.1"/>
<text x="30.20" y="406.70" font-size="8" text-anchor="end">0</text>
<line x1="33.20" y1="389.20" x2="36.50" y2="389.20" stroke="#151515" stroke-width="1.1"/>
<text x="30.20" y="391.70" font-size="8" text-anchor="end">2</text>
<line x1="33.20" y1="374.20" x2="36.50" y2="374.20" stroke="#151515" stroke-width="1.1"/>
<text x="30.20" y="376.70" font-size="8" text-anchor="end">4</text>
<line x1="33.20" y1="359.20" x2="36.50" y2="359.20" stroke="#151515" stroke-width="1.1"/>
<text x="30.20" y="361.70" font-size="8" text-anchor="end">6</text>
<line x1="33.20" y1="344.20" x2="36.50" y2="344.20" stroke="#151515" stroke-width="1.1"/>
<text x="30.20" y="346.70" font-size="8" text-anchor="end">8</text>
<line x1="33.20" y1="329.20" x2="36.50" y2="329.20" stroke="#151515" stroke-width="1.1"/>
<text x="30.20" y="331.70" font-size="8" text-anchor="end">10</text>
<line x1="33.20" y1="314.20" x2="36.50" y2="314.20" stroke="#151515" stroke-width="1.1"/>
<text x="30.20" y="316.70" font-size="8" text-anchor="end">12</text>
<line x1="33.20" y1="299.20" x2="36.50" y2="299.20" stroke="#151515" stroke-width="1.1"/>
<text x="30.20" y="301.70" font-size="8" text-anchor="end">14</text>
<line x1="33.20" y1="284.20" x2="36.50" y2="284.20" stroke="#151515" stroke-width="1.1"/>
<text x="30.20" y="286.70" font-size="8" text-anchor="end">16</text>
<line x1="56.40" y1="409.20" x2="56.40" y2="412.80" stroke="#151515" stroke-width="1.1"/>
<text x="59.30" y="419.20" font-size="7.8" text-anchor="end" transform="rotate(-45 59.30 419.20)">R-CTX</text>
<line x1="71.70" y1="409.20" x2="71.70" y2="412.80" stroke="#151515" stroke-width="1.1"/>
<text x="74.60" y="419.20" font-size="7.8" text-anchor="end" transform="rotate(-45 74.60 419.20)">R-HD-ARAC</text>
<line x1="86.30" y1="409.20" x2="86.30" y2="412.80" stroke="#151515" stroke-width="1.1"/>
<text x="89.20" y="419.20" font-size="7.8" text-anchor="end" transform="rotate(-45 89.20 419.20)">ASCT</text>
<line x1="120.40" y1="409.20" x2="120.40" y2="412.80" stroke="#151515" stroke-width="1.1"/>
<text x="123.30" y="419.20" font-size="7.8" text-anchor="end" transform="rotate(-45 123.30 419.20)">Post RND-M6</text>
<line x1="150.90" y1="409.20" x2="150.90" y2="412.80" stroke="#151515" stroke-width="1.1"/>
<text x="153.80" y="419.20" font-size="7.8" text-anchor="end" transform="rotate(-45 153.80 419.20)">Post RND-M12</text>
<line x1="181.40" y1="409.20" x2="181.40" y2="412.80" stroke="#151515" stroke-width="1.1"/>
<text x="184.30" y="419.20" font-size="7.8" text-anchor="end" transform="rotate(-45 184.30 419.20)">Post RND-M18</text>
<line x1="211.70" y1="409.20" x2="211.70" y2="412.80" stroke="#151515" stroke-width="1.1"/>
<text x="214.60" y="419.20" font-size="7.8" text-anchor="end" transform="rotate(-45 214.60 419.20)">Post RND-M24</text>
<text x="6.20" y="276.80" font-size="11.8" font-weight="bold" fill="#000">C</text>
<text x="15.10" y="345.20" font-size="9.2" text-anchor="middle" transform="rotate(-90 15.10 345.20)" textLength="84.6" lengthAdjust="spacingAndGlyphs">HR with PB nested MRD+</text>
<line x1="211.20" y1="290.55" x2="218.10" y2="290.55" stroke="#c8102e" stroke-width="1.15"/>
<text x="221.10" y="293.00" font-size="7.5">HR</text>
<rect x="212.30" y="298.90" width="4.9" height="5.2" fill="#edc3cb"/>
<text x="221.10" y="304.10" font-size="7.5">95%CI</text>
<text x="32.60" y="469.00" font-size="8">At risk:</text>
<text x="57.60" y="480.00" font-size="8" text-anchor="end">NEG</text>
<text x="57.60" y="491.10" font-size="8" text-anchor="end">POS</text>
<text x="70.40" y="480.00" font-size="8" text-anchor="middle">73</text>
<text x="70.40" y="491.10" font-size="8" text-anchor="middle">81</text>
<text x="70.40" y="503.70" font-size="8" text-anchor="middle">6</text>
<text x="100.00" y="480.00" font-size="8" text-anchor="middle">113</text>
<text x="100.00" y="491.10" font-size="8" text-anchor="middle">39</text>
<text x="100.00" y="503.70" font-size="8" text-anchor="middle">12</text>
<text x="129.90" y="480.00" font-size="8" text-anchor="middle">86</text>
<text x="129.90" y="491.10" font-size="8" text-anchor="middle">51</text>
<text x="129.90" y="503.70" font-size="8" text-anchor="middle">18</text>
<text x="159.90" y="480.00" font-size="8" text-anchor="middle">66</text>
<text x="159.90" y="491.10" font-size="8" text-anchor="middle">59</text>
<text x="159.90" y="503.70" font-size="8" text-anchor="middle">24</text>
<text x="189.30" y="480.00" font-size="8" text-anchor="middle">53</text>
<text x="189.30" y="491.10" font-size="8" text-anchor="middle">50</text>
<text x="189.30" y="503.70" font-size="8" text-anchor="middle">30</text>
<text x="221.50" y="480.00" font-size="8" text-anchor="middle">37</text>
<text x="221.50" y="491.10" font-size="8" text-anchor="middle">49</text>
<text x="221.50" y="503.70" font-size="8" text-anchor="middle">36</text>
<line x1="60.80" y1="494.10" x2="233.10" y2="494.10" stroke="#4a4a4a" stroke-width="1.4"/>
<text x="143.00" y="516.50" font-size="9.5" text-anchor="middle" textLength="81.5" lengthAdjust="spacingAndGlyphs">Months from enrollment</text></g>
<g id="pD" class="t"><line x1="298.60" y1="396.70" x2="509.70" y2="396.70" stroke="#151515" stroke-width="1.4" stroke-dasharray="3 2.233"/>
<path d="M327.90,371.51 L328.90,372.19 L329.90,372.84 L330.90,373.45 L331.90,374.03 L332.90,374.57 L333.90,375.08 L334.90,375.56 L335.90,376.01 L336.90,376.42 L337.90,376.80 L338.90,377.15 L339.90,377.47 L340.90,377.76 L341.90,378.03 L342.90,378.26 L343.90,378.46 L344.90,378.64 L345.90,378.79 L346.90,378.91 L347.90,379.00 L348.90,379.07 L349.90,379.12 L350.90,379.14 L351.90,379.13 L352.90,379.10 L353.90,379.05 L354.90,378.97 L355.90,378.88 L356.90,378.76 L357.90,378.62 L358.90,378.45 L359.90,378.27 L360.90,378.07 L361.90,377.85 L362.90,377.61 L363.90,377.35 L364.90,377.07 L365.90,376.78 L366.90,376.47 L367.90,376.14 L368.90,375.80 L369.90,375.44 L370.90,375.07 L371.90,374.68 L372.90,374.28 L373.90,373.87 L374.90,373.44 L375.90,373.00 L376.90,372.56 L377.90,372.10 L378.90,371.64 L379.90,371.16 L380.90,370.68 L381.90,370.20 L382.90,369.70 L383.90,369.21 L384.90,368.71 L385.90,368.20 L386.90,367.69 L387.90,367.18 L388.90,366.67 L389.90,366.16 L390.90,365.65 L391.90,365.15 L392.90,364.65 L393.90,364.16 L394.90,363.68 L395.90,363.22 L396.90,362.78 L397.90,362.35 L398.90,361.94 L399.90,361.56 L400.90,361.20 L401.90,360.87 L402.90,360.55 L403.90,360.27 L404.90,360.00 L405.90,359.76 L406.90,359.55 L407.90,359.36 L408.90,359.19 L409.90,359.05 L410.90,358.93 L411.90,358.83 L412.90,358.75 L413.90,358.69 L414.90,358.66 L415.90,358.64 L416.90,358.64 L417.90,358.66 L418.90,358.69 L419.90,358.74 L420.90,358.81 L421.90,358.89 L422.90,358.99 L423.90,359.09 L424.90,359.21 L425.90,359.34 L426.90,359.49 L427.90,359.64 L428.90,359.80 L429.90,359.97 L430.90,360.15 L431.90,360.33 L432.90,360.53 L433.90,360.72 L434.90,360.93 L435.90,361.13 L436.90,361.34 L437.90,361.56 L438.90,361.77 L439.90,361.99 L440.90,362.21 L441.90,362.43 L442.90,362.65 L443.90,362.86 L444.90,363.08 L445.90,363.29 L446.90,363.50 L447.90,363.71 L448.90,363.91 L449.90,364.11 L450.90,364.30 L451.90,364.49 L452.90,364.67 L453.90,364.85 L454.90,365.02 L455.90,365.19 L456.90,365.35 L457.90,365.51 L458.90,365.67 L459.90,365.81 L460.90,365.96 L461.90,366.09 L462.90,366.23 L463.90,366.35 L464.90,366.48 L465.90,366.59 L466.90,366.71 L467.90,366.81 L468.90,366.92 L469.90,367.01 L470.90,367.11 L471.90,367.19 L472.90,367.27 L473.90,367.35 L474.90,367.42 L475.90,367.49 L476.90,367.55 L477.90,367.60 L478.90,367.65 L479.90,367.70 L480.90,367.74 L481.90,367.77 L482.90,367.80 L483.90,367.83 L484.90,367.85 L485.90,367.86 L486.90,367.87 L487.90,367.87 L488.90,367.87 L489.90,367.86 L490.90,367.85 L491.90,367.83 L492.90,367.80 L493.90,367.78 L494.90,367.74 L495.90,367.70 L496.90,367.66 L497.90,367.60 L498.90,367.55 L499.90,367.49 L500.90,367.42 L501.90,367.35 L502.90,367.27 L503.90,367.18 L504.90,367.10 L504.90,393.30 L503.90,393.30 L502.90,393.29 L501.90,393.29 L500.90,393.28 L499.90,393.27 L498.90,393.26 L497.90,393.26 L496.90,393.25 L495.90,393.23 L494.90,393.22 L493.90,393.21 L492.90,393.20 L491.90,393.18 L490.90,393.17 L489.90,393.15 L488.90,393.14 L487.90,393.12 L486.90,393.11 L485.90,393.09 L484.90,393.07 L483.90,393.06 L482.90,393.04 L481.90,393.02 L480.90,393.00 L479.90,392.98 L478.90,392.97 L477.90,392.95 L476.90,392.93 L475.90,392.91 L474.90,392.89 L473.90,392.88 L472.90,392.86 L471.90,392.84 L470.90,392.82 L469.90,392.81 L468.90,392.79 L467.90,392.77 L466.90,392.75 L465.90,392.74 L464.90,392.72 L463.90,392.71 L462.90,392.69 L461.90,392.68 L460.90,392.67 L459.90,392.65 L458.90,392.64 L457.90,392.63 L456.90,392.62 L455.90,392.61 L454.90,392.60 L453.90,392.59 L452.90,392.58 L451.90,392.58 L450.90,392.57 L449.90,392.57 L448.90,392.56 L447.90,392.56 L446.90,392.56 L445.90,392.56 L444.90,392.56 L443.90,392.56 L442.90,392.56 L441.90,392.57 L440.90,392.58 L439.90,392.58 L438.90,392.59 L437.90,392.60 L436.90,392.61 L435.90,392.63 L434.90,392.64 L433.90,392.66 L432.90,392.68 L431.90,392.70 L430.90,392.72 L429.90,392.74 L428.90,392.77 L427.90,392.79 L426.90,392.82 L425.90,392.85 L424.90,392.89 L423.90,392.92 L422.90,392.96 L421.90,393.00 L420.90,393.04 L419.90,393.08 L418.90,393.12 L417.90,393.17 L416.90,393.22 L415.90,393.27 L414.90,393.33 L413.90,393.38 L412.90,393.44 L411.90,393.51 L410.90,393.57 L409.90,393.64 L408.90,393.71 L407.90,393.78 L406.90,393.85 L405.90,393.93 L404.90,394.01 L403.90,394.09 L402.90,394.18 L401.90,394.26 L400.90,394.36 L399.90,394.45 L398.90,394.55 L397.90,394.65 L396.90,394.75 L395.90,394.85 L394.90,394.96 L393.90,395.08 L392.90,395.19 L391.90,395.31 L390.90,395.43 L389.90,395.56 L388.90,395.68 L387.90,395.82 L386.90,395.95 L385.90,396.09 L384.90,396.23 L383.90,396.38 L382.90,396.52 L381.90,396.67 L380.90,396.82 L379.90,396.97 L378.90,397.12 L377.90,397.26 L376.90,397.40 L375.90,397.54 L374.90,397.68 L373.90,397.81 L372.90,397.94 L371.90,398.07 L370.90,398.19 L369.90,398.31 L368.90,398.43 L367.90,398.55 L366.90,398.66 L365.90,398.77 L364.90,398.88 L363.90,398.98 L362.90,399.08 L361.90,399.19 L360.90,399.28 L359.90,399.38 L358.90,399.48 L357.90,399.57 L356.90,399.67 L355.90,399.76 L354.90,399.85 L353.90,399.94 L352.90,400.04 L351.90,400.13 L350.90,400.23 L349.90,400.33 L348.90,400.43 L347.90,400.54 L346.90,400.64 L345.90,400.76 L344.90,400.87 L343.90,400.99 L342.90,401.12 L341.90,401.25 L340.90,401.39 L339.90,401.54 L338.90,401.69 L337.90,401.86 L336.90,402.03 L335.90,402.20 L334.90,402.39 L333.90,402.59 L332.90,402.80 L331.90,403.01 L330.90,403.24 L329.90,403.48 L328.90,403.74 L327.90,404.00 Z" fill="#edc3cb"/>
<path d="M327.80,400.39 L328.80,400.15 L329.80,399.91 L330.80,399.67 L331.80,399.42 L332.80,399.17 L333.80,398.92 L334.80,398.67 L335.80,398.42 L336.80,398.17 L337.80,397.92 L338.80,397.66 L339.80,397.41 L340.80,397.15 L341.80,396.89 L342.80,396.63 L343.80,396.37 L344.80,396.11 L345.80,395.85 L346.80,395.59 L347.80,395.33 L348.80,395.07 L349.80,394.81 L350.80,394.55 L351.80,394.29 L352.80,394.03 L353.80,393.77 L354.80,393.51 L355.80,393.25 L356.80,392.99 L357.80,392.74 L358.80,392.48 L359.80,392.22 L360.80,391.97 L361.80,391.71 L362.80,391.46 L363.80,391.21 L364.80,390.96 L365.80,390.71 L366.80,390.46 L367.80,390.22 L368.80,389.97 L369.80,389.73 L370.80,389.49 L371.80,389.25 L372.80,389.02 L373.80,388.78 L374.80,388.55 L375.80,388.32 L376.80,388.09 L377.80,387.87 L378.80,387.65 L379.80,387.43 L380.80,387.21 L381.80,387.00 L382.80,386.79 L383.80,386.58 L384.80,386.38 L385.80,386.18 L386.80,385.98 L387.80,385.79 L388.80,385.60 L389.80,385.41 L390.80,385.23 L391.80,385.05 L392.80,384.87 L393.80,384.70 L394.80,384.54 L395.80,384.37 L396.80,384.22 L397.80,384.06 L398.80,383.91 L399.80,383.77 L400.80,383.63 L401.80,383.49 L402.80,383.36 L403.80,383.24 L404.80,383.12 L405.80,383.00 L406.80,382.89 L407.80,382.78 L408.80,382.68 L409.80,382.58 L410.80,382.48 L411.80,382.39 L412.80,382.31 L413.80,382.22 L414.80,382.15 L415.80,382.07 L416.80,382.00 L417.80,381.93 L418.80,381.87 L419.80,381.81 L420.80,381.76 L421.80,381.70 L422.80,381.66 L423.80,381.61 L424.80,381.57 L425.80,381.53 L426.80,381.50 L427.80,381.46 L428.80,381.44 L429.80,381.41 L430.80,381.39 L431.80,381.37 L432.80,381.36 L433.80,381.34 L434.80,381.33 L435.80,381.33 L436.80,381.32 L437.80,381.32 L438.80,381.32 L439.80,381.32 L440.80,381.33 L441.80,381.34 L442.80,381.35 L443.80,381.36 L444.80,381.38 L445.80,381.40 L446.80,381.42 L447.80,381.44 L448.80,381.46 L449.80,381.49 L450.80,381.52 L451.80,381.55 L452.80,381.58 L453.80,381.62 L454.80,381.65 L455.80,381.69 L456.80,381.73 L457.80,381.77 L458.80,381.81 L459.80,381.86 L460.80,381.90 L461.80,381.95 L462.80,382.00 L463.80,382.05 L464.80,382.10 L465.80,382.15 L466.80,382.20 L467.80,382.26 L468.80,382.31 L469.80,382.37 L470.80,382.42 L471.80,382.48 L472.80,382.54 L473.80,382.60 L474.80,382.66 L475.80,382.72 L476.80,382.78 L477.80,382.84 L478.80,382.90 L479.80,382.96 L480.80,383.03 L481.80,383.09 L482.80,383.15 L483.80,383.21 L484.80,383.28 L485.80,383.34 L486.80,383.40 L487.80,383.46 L488.80,383.53 L489.80,383.59 L490.80,383.65 L491.80,383.71 L492.80,383.77 L493.80,383.84 L494.80,383.90 L495.80,383.96 L496.80,384.01 L497.80,384.07 L498.80,384.13 L499.80,384.19 L500.80,384.25 L501.80,384.30 L502.80,384.36 L503.80,384.41 L504.60,384.45" fill="none" stroke="#c8102e" stroke-width="1.5" stroke-linejoin="round"/>
<line x1="300.10" y1="280.10" x2="300.10" y2="409.80" stroke="#151515" stroke-width="1.4"/>
<line x1="299.40" y1="409.15" x2="513.70" y2="409.15" stroke="#151515" stroke-width="1.45"/>
<line x1="296.90" y1="404.10" x2="300.20" y2="404.10" stroke="#151515" stroke-width="1.1"/>
<text x="293.90" y="406.60" font-size="8" text-anchor="end">0</text>
<line x1="296.90" y1="389.10" x2="300.20" y2="389.10" stroke="#151515" stroke-width="1.1"/>
<text x="293.90" y="391.60" font-size="8" text-anchor="end">2</text>
<line x1="296.90" y1="374.10" x2="300.20" y2="374.10" stroke="#151515" stroke-width="1.1"/>
<text x="293.90" y="376.60" font-size="8" text-anchor="end">4</text>
<line x1="296.90" y1="359.10" x2="300.20" y2="359.10" stroke="#151515" stroke-width="1.1"/>
<text x="293.90" y="361.60" font-size="8" text-anchor="end">6</text>
<line x1="296.90" y1="344.10" x2="300.20" y2="344.10" stroke="#151515" stroke-width="1.1"/>
<text x="293.90" y="346.60" font-size="8" text-anchor="end">8</text>
<line x1="296.90" y1="329.10" x2="300.20" y2="329.10" stroke="#151515" stroke-width="1.1"/>
<text x="293.90" y="331.60" font-size="8" text-anchor="end">10</text>
<line x1="296.90" y1="314.10" x2="300.20" y2="314.10" stroke="#151515" stroke-width="1.1"/>
<text x="293.90" y="316.60" font-size="8" text-anchor="end">12</text>
<line x1="296.90" y1="299.10" x2="300.20" y2="299.10" stroke="#151515" stroke-width="1.1"/>
<text x="293.90" y="301.60" font-size="8" text-anchor="end">14</text>
<line x1="296.90" y1="284.10" x2="300.20" y2="284.10" stroke="#151515" stroke-width="1.1"/>
<text x="293.90" y="286.60" font-size="8" text-anchor="end">16</text>
<line x1="320.10" y1="409.10" x2="320.10" y2="412.70" stroke="#151515" stroke-width="1.1"/>
<text x="323.00" y="419.10" font-size="7.8" text-anchor="end" transform="rotate(-45 323.00 419.10)">R-CTX</text>
<line x1="335.40" y1="409.10" x2="335.40" y2="412.70" stroke="#151515" stroke-width="1.1"/>
<text x="338.30" y="419.10" font-size="7.8" text-anchor="end" transform="rotate(-45 338.30 419.10)">R-HD-ARAC</text>
<line x1="350.00" y1="409.10" x2="350.00" y2="412.70" stroke="#151515" stroke-width="1.1"/>
<text x="352.90" y="419.10" font-size="7.8" text-anchor="end" transform="rotate(-45 352.90 419.10)">ASCT</text>
<line x1="384.10" y1="409.10" x2="384.10" y2="412.70" stroke="#151515" stroke-width="1.1"/>
<text x="387.00" y="419.10" font-size="7.8" text-anchor="end" transform="rotate(-45 387.00 419.10)">Post RND-M6</text>
<line x1="414.60" y1="409.10" x2="414.60" y2="412.70" stroke="#151515" stroke-width="1.1"/>
<text x="417.50" y="419.10" font-size="7.8" text-anchor="end" transform="rotate(-45 417.50 419.10)">Post RND-M12</text>
<line x1="445.10" y1="409.10" x2="445.10" y2="412.70" stroke="#151515" stroke-width="1.1"/>
<text x="448.00" y="419.10" font-size="7.8" text-anchor="end" transform="rotate(-45 448.00 419.10)">Post RND-M18</text>
<line x1="475.40" y1="409.10" x2="475.40" y2="412.70" stroke="#151515" stroke-width="1.1"/>
<text x="478.30" y="419.10" font-size="7.8" text-anchor="end" transform="rotate(-45 478.30 419.10)">Post RND-M24</text>
<text x="269.90" y="276.80" font-size="11.8" font-weight="bold" fill="#000">D</text>
<text x="278.80" y="345.10" font-size="9.2" text-anchor="middle" transform="rotate(-90 278.80 345.10)" textLength="74.5" lengthAdjust="spacingAndGlyphs">HR with PB real MRD+</text>
<line x1="474.90" y1="290.45" x2="481.80" y2="290.45" stroke="#c8102e" stroke-width="1.15"/>
<text x="484.80" y="292.90" font-size="7.5">HR</text>
<rect x="476.00" y="298.80" width="4.9" height="5.2" fill="#edc3cb"/>
<text x="484.80" y="304.00" font-size="7.5">95%CI</text>
<text x="296.30" y="469.10" font-size="8">At risk:</text>
<text x="321.30" y="480.10" font-size="8" text-anchor="end">NEG</text>
<text x="321.30" y="491.20" font-size="8" text-anchor="end">POS</text>
<text x="334.10" y="480.10" font-size="8" text-anchor="middle">99</text>
<text x="334.10" y="491.20" font-size="8" text-anchor="middle">55</text>
<text x="334.10" y="503.80" font-size="8" text-anchor="middle">6</text>
<text x="363.70" y="480.10" font-size="8" text-anchor="middle">130</text>
<text x="363.70" y="491.20" font-size="8" text-anchor="middle">22</text>
<text x="363.70" y="503.80" font-size="8" text-anchor="middle">12</text>
<text x="393.60" y="480.10" font-size="8" text-anchor="middle">114</text>
<text x="393.60" y="491.20" font-size="8" text-anchor="middle">23</text>
<text x="393.60" y="503.80" font-size="8" text-anchor="middle">18</text>
<text x="423.60" y="480.10" font-size="8" text-anchor="middle">101</text>
<text x="423.60" y="491.20" font-size="8" text-anchor="middle">24</text>
<text x="423.60" y="503.80" font-size="8" text-anchor="middle">24</text>
<text x="453.00" y="480.10" font-size="8" text-anchor="middle">82</text>
<text x="453.00" y="491.20" font-size="8" text-anchor="middle">21</text>
<text x="453.00" y="503.80" font-size="8" text-anchor="middle">30</text>
<text x="485.20" y="480.10" font-size="8" text-anchor="middle">65</text>
<text x="485.20" y="491.20" font-size="8" text-anchor="middle">21</text>
<text x="485.20" y="503.80" font-size="8" text-anchor="middle">36</text>
<line x1="324.50" y1="494.00" x2="496.80" y2="494.00" stroke="#4a4a4a" stroke-width="1.4"/>
<text x="406.70" y="516.60" font-size="9.5" text-anchor="middle" textLength="81.5" lengthAdjust="spacingAndGlyphs">Months from enrollment</text></g>
</svg>
</body></html>
